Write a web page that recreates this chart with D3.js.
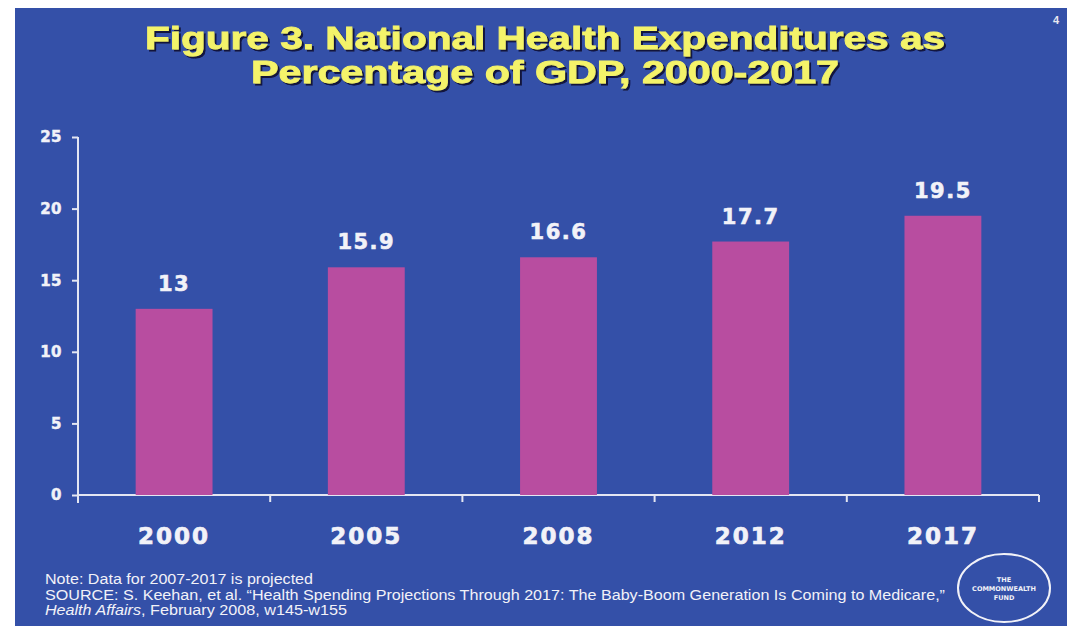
<!DOCTYPE html>
<html>
<head>
<meta charset="utf-8">
<script src="https://cdn.jsdelivr.net/npm/d3@7/dist/d3.min.js"></script>
<style>
  html, body { margin: 0; padding: 0; background: #ffffff; }
  svg { display: block; }
</style>
</head>
<body>
<div id="chart"></div>
<script>
/* --------------------------------------------------------------
DATA
-------------------------------------------------------------- */

const YEARS = ["2000", "2005", "2008", "2012", "2017"];
const PCT_GDP = [13, 15.9, 16.6, 17.7, 19.5];
const Y_TICKS = [0, 5, 10, 15, 20, 25];

const TITLE_LINES = [
    "Figure 3. National Health Expenditures as",
    "Percentage of GDP, 2000-2017"
];

/* --------------------------------------------------------------
SETUP
-------------------------------------------------------------- */

const W = 1067, H = 626;
const BG = "#3450a8";
const BAR = "#b84da0";
const AXIS = "#e4e6f2";
const INK = "#f2f2f8";

const svg = d3.select("#chart")
    .append("svg")
    .attr("width", W)
    .attr("height", H);

svg.append("rect")
    .attr("x", 15).attr("y", 8)
    .attr("width", W - 15).attr("height", H - 8)
    .attr("fill", BG);

// title with dark drop shadow
const defs = svg.append("defs");
const f = defs.append("filter").attr("id", "shadow");
f.append("feDropShadow")
    .attr("dx", 2).attr("dy", 2)
    .attr("stdDeviation", 0.6)
    .attr("flood-color", "#0a0a30")
    .attr("flood-opacity", 0.9);

svg.selectAll("text.title")
    .data(TITLE_LINES)
    .enter()
    .append("text")
    .attr("class", "title")
    .attr("x", 545)
    .attr("y", (d, i) => 49 + i * 34)
    .attr("text-anchor", "middle")
    .attr("font-family", "Liberation Sans, Arial, sans-serif")
    .attr("font-weight", "bold")
    .attr("font-size", 31)
    .attr("fill", "#f4f36a")
    .attr("stroke", "#f4f36a")
    .attr("stroke-width", 0.8)
    .attr("textLength", (d, i) => i === 0 ? 800 : 588)
    .attr("lengthAdjust", "spacingAndGlyphs")
    .attr("filter", "url(#shadow)")
    .text(d => d);

svg.append("text")
    .attr("x", 1053).attr("y", 24)
    .attr("font-family", "Liberation Sans, Arial, sans-serif")
    .attr("font-weight", "bold")
    .attr("font-size", 11)
    .attr("fill", "#e8e8f0")
    .text("4");

/* --------------------------------------------------------------
SCALES + AXES
-------------------------------------------------------------- */

const x = d3.scaleBand()
    .domain(YEARS)
    .range([78, 1039])
    .paddingInner(0.6)
    .paddingOuter(0.3);

const y = d3.scaleLinear()
    .domain([0, 25])
    .range([495, 137]);

const yAxis = svg.append("g")
    .attr("transform", "translate(78,0)")
    .call(d3.axisLeft(y).tickValues(Y_TICKS).tickSize(6).tickPadding(10));

yAxis.select(".domain")
    .attr("d", `M0,${y(25)}V${y(0) + 8}`);

// x axis: line plus ticks at band boundaries
const xAxis = svg.append("g");
xAxis.append("line")
    .attr("x1", 78).attr("x2", 1039)
    .attr("y1", y(0)).attr("y2", y(0));

const step = x.step();
xAxis.selectAll("line.tick")
    .data(YEARS.slice(1).concat(["end"]))
    .enter()
    .append("line")
    .attr("class", "tick")
    .attr("x1", (d, i) => 78 + (i + 1) * step)
    .attr("x2", (d, i) => 78 + (i + 1) * step)
    .attr("y1", y(0)).attr("y2", y(0) + 7);

svg.selectAll("g line, .domain")
    .attr("stroke", AXIS)
    .attr("stroke-width", 2);

yAxis.selectAll("text")
    .attr("fill", INK)
    .attr("stroke", INK)
    .attr("stroke-width", 0.5)
    .attr("font-family", "DejaVu Sans, sans-serif")
    .attr("font-weight", "bold")
    .attr("font-size", 15)
    .attr("letter-spacing", 0.5);

/* --------------------------------------------------------------
BARS + LABELS
-------------------------------------------------------------- */

const bars = YEARS.map((yr, i) => ({ year: yr, value: PCT_GDP[i] }));

svg.selectAll("rect.bar")
    .data(bars)
    .enter()
    .append("rect")
    .attr("class", "bar")
    .attr("x", d => x(d.year))
    .attr("width", x.bandwidth())
    .attr("y", d => y(d.value))
    .attr("height", d => y(0) - y(d.value))
    .attr("fill", BAR);

svg.selectAll("text.val")
    .data(bars)
    .enter()
    .append("text")
    .attr("class", "val")
    .attr("x", d => x(d.year) + x.bandwidth() / 2)
    .attr("y", d => y(d.value) - 18)
    .attr("text-anchor", "middle")
    .attr("font-family", "DejaVu Sans, sans-serif")
    .attr("font-weight", "bold")
    .attr("font-size", 21)
    .attr("letter-spacing", 1.5)
    .attr("fill", INK)
    .attr("stroke", INK)
    .attr("stroke-width", 0.6)
    .text(d => d.value);

svg.selectAll("text.cat")
    .data(YEARS)
    .enter()
    .append("text")
    .attr("class", "cat")
    .attr("x", d => x(d) + x.bandwidth() / 2)
    .attr("y", 544)
    .attr("text-anchor", "middle")
    .attr("font-family", "DejaVu Sans, sans-serif")
    .attr("font-weight", "bold")
    .attr("font-size", 23)
    .attr("letter-spacing", 2)
    .attr("fill", INK)
    .attr("stroke", INK)
    .attr("stroke-width", 0.7)
    .text(d => d);

/* --------------------------------------------------------------
FOOTNOTES + LOGO
-------------------------------------------------------------- */

const note = svg.append("text")
    .attr("font-family", "Liberation Sans, Arial, sans-serif")
    .attr("font-size", 14)
    .attr("fill", INK);

note.append("tspan").attr("x", 45).attr("y", 584)
    .attr("textLength", 268).attr("lengthAdjust", "spacingAndGlyphs")
    .text("Note: Data for 2007-2017 is projected");
note.append("tspan").attr("x", 45).attr("y", 600)
    .attr("textLength", 900).attr("lengthAdjust", "spacingAndGlyphs")
    .text("SOURCE: S. Keehan, et al. \u201CHealth Spending Projections Through 2017: The Baby-Boom Generation Is Coming to Medicare,\u201D");
note.append("tspan").attr("x", 45).attr("y", 615)
    .attr("font-style", "italic")
    .attr("textLength", 96).attr("lengthAdjust", "spacingAndGlyphs")
    .text("Health Affairs");
note.append("tspan").attr("x", 141).attr("y", 615)
    .attr("textLength", 206).attr("lengthAdjust", "spacingAndGlyphs")
    .text(", February 2008, w145-w155");

const logo = svg.append("g").attr("transform", "translate(1004,588)");
logo.append("ellipse")
    .attr("rx", 46).attr("ry", 34)
    .attr("fill", "none")
    .attr("stroke", INK)
    .attr("stroke-width", 2);
logo.selectAll("text")
    .data(["THE", "COMMONWEALTH", "FUND"])
    .enter()
    .append("text")
    .attr("y", (d, i) => -6 + i * 9)
    .attr("text-anchor", "middle")
    .attr("font-family", "DejaVu Sans, sans-serif")
    .attr("font-weight", "bold")
    .attr("font-size", 6.5)
    .attr("fill", INK)
    .text(d => d);
</script>
</body>
</html>
